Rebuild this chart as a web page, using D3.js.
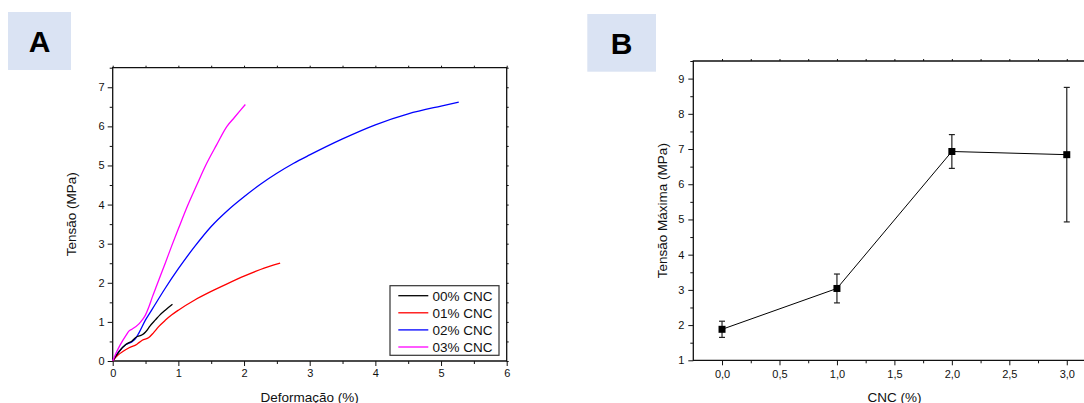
<!DOCTYPE html>
<html>
<head>
<meta charset="utf-8">
<script src="https://cdn.jsdelivr.net/npm/d3@7"></script>
<style>
  html, body { margin: 0; padding: 0; background: #fff; }
  svg { display: block; font-family: "Liberation Sans", Arial, sans-serif; }
</style>
</head>
<body>
<svg id="fig" width="1084" height="403"></svg>
<script>
// ---- Panel A: stress–strain curves (strain %, stress MPa) ----
const seriesNames = ["00% CNC", "01% CNC", "02% CNC", "03% CNC"];
const seriesColors = ["#000000", "#ff0000", "#0000ff", "#ff00ff"];

const strain00 = [0, 0.1, 0.2, 0.3, 0.35, 0.4, 0.45, 0.5, 0.57, 0.65, 0.72, 0.8, 0.91];
const stress00 = [0, 0.25, 0.42, 0.52, 0.6, 0.64, 0.67, 0.74, 0.9, 1.05, 1.18, 1.3, 1.45];

const strain01 = [0, 0.08, 0.16, 0.25, 0.37, 0.4, 0.45, 0.55, 0.62, 0.7, 0.8, 0.9, 1.0, 1.25, 1.5, 1.75, 2.0, 2.25, 2.55];
const stress01 = [0, 0.15, 0.25, 0.34, 0.43, 0.47, 0.53, 0.6, 0.72, 0.88, 1.04, 1.18, 1.3, 1.56, 1.78, 1.98, 2.17, 2.34, 2.5];

const strain02 = [0, 0.1, 0.2, 0.3, 0.35, 0.4, 0.5, 0.6, 0.8, 1.0, 1.25, 1.5, 1.75, 2.0, 2.25, 2.5, 2.75, 3.0, 3.5, 4.0, 4.5, 5.0, 5.27];
const stress02 = [0, 0.25, 0.42, 0.5, 0.58, 0.72, 1.05, 1.32, 1.86, 2.36, 2.93, 3.44, 3.85, 4.2, 4.52, 4.8, 5.05, 5.27, 5.68, 6.04, 6.32, 6.52, 6.62];

const strain03 = [0, 0.05, 0.11, 0.2, 0.25, 0.3, 0.4, 0.45, 0.5, 0.55, 0.6, 0.67, 0.8, 0.9, 1.0, 1.14, 1.28, 1.415, 1.58, 1.74, 1.85, 1.95, 2.02];
const stress03 = [0, 0.2, 0.4, 0.65, 0.77, 0.82, 0.95, 1.05, 1.18, 1.38, 1.62, 1.93, 2.5, 2.95, 3.38, 3.97, 4.5, 5.0, 5.52, 6.0, 6.22, 6.42, 6.56];

const xTicksA = [0, 1, 2, 3, 4, 5, 6];
const yTicksA = [0, 1, 2, 3, 4, 5, 6, 7];

// ---- Panel B: maximum stress vs CNC content ----
const cncLevels = [0, 1, 2, 3];
const maxStress = [1.88, 3.04, 6.93, 6.84];
const maxStressErr = [0.23, 0.41, 0.48, 1.91];
const xTicksB = [0, 0.5, 1, 1.5, 2, 2.5, 3];
const yTicksB = [1, 2, 3, 4, 5, 6, 7, 8, 9];

const svg = d3.select("#fig");
const FONT_TICK = 11;
const FONT_TITLE = 13.5;

function panelTag(x, y, w, h, letter) {
  svg.append("rect").attr("x", x).attr("y", y).attr("width", w).attr("height", h)
    .attr("fill", "#dae3f3");
  svg.append("text").attr("x", x + w / 2).attr("y", y + h / 2 + 11)
    .attr("text-anchor", "middle").attr("font-size", 30).attr("font-weight", "bold")
    .attr("fill", "#000").text(letter);
}

function range(a, b, step) {
  const out = [];
  for (let v = a; v <= b + 1e-9; v += step) out.push(+v.toFixed(4));
  return out;
}

function styleAxis(g) {
  g.select(".domain").remove();
  g.selectAll("line").attr("stroke", "#111").attr("stroke-width", 1);
  g.selectAll("text").attr("font-size", FONT_TICK).attr("fill", "#111")
    .attr("font-family", "Liberation Sans, Arial, sans-serif");
}

function frame(x0, y0, x1, y1) {
  svg.append("path")
    .attr("d", `M${x0},${y0}H${x1}V${y1}H${x0}Z`)
    .attr("fill", "none").attr("stroke", "#111").attr("stroke-width", 1.3);
}

// ================= Panel A =================
panelTag(8, 12, 63, 58, "A");

const xA = d3.scaleLinear().domain([0, 6]).range([112.7, 506.7]);
const yA = d3.scaleLinear().domain([0, 7.5]).range([361, 67.7]);

// minor ticks (outward)
svg.append("g").attr("transform", `translate(0,${yA(0)})`)
  .call(d3.axisBottom(xA).tickValues(range(0.5, 5.5, 1)).tickSize(3).tickFormat(""))
  .call(styleAxis);
svg.append("g").attr("transform", `translate(${xA(0)},0)`)
  .call(d3.axisLeft(yA).tickValues(range(0.5, 7.5, 1)).tickSize(3).tickFormat(""))
  .call(styleAxis);
// major ticks
svg.append("g").attr("transform", `translate(0,${yA(0)})`)
  .call(d3.axisBottom(xA).tickValues(xTicksA).tickSize(5).tickPadding(3).tickFormat(d3.format("d")))
  .call(styleAxis);
svg.append("g").attr("transform", `translate(${xA(0)},0)`)
  .call(d3.axisLeft(yA).tickValues(yTicksA).tickSize(5).tickPadding(3).tickFormat(d3.format("d")))
  .call(styleAxis);
// mirrored short ticks on top / right
svg.append("g").attr("transform", `translate(0,${yA(7.5)})`)
  .call(d3.axisTop(xA).tickValues(range(0, 6, 0.5)).tickSize(2).tickFormat(""))
  .call(styleAxis);
svg.append("g").attr("transform", `translate(${xA(6)},0)`)
  .call(d3.axisRight(yA).tickValues(range(0, 7.5, 0.5)).tickSize(2).tickFormat(""))
  .call(styleAxis);

frame(xA(0), yA(7.5), xA(6), yA(0));

const curves = [
  [strain00, stress00], [strain01, stress01], [strain02, stress02], [strain03, stress03]
];
const lineA = d3.line().x(d => xA(d[0])).y(d => yA(d[1])).curve(d3.curveMonotoneX);
// draw in order blue, red, black, magenta-on-top
[2, 1, 0, 3].forEach(i => {
  const pts = curves[i][0].map((s, k) => [s, curves[i][1][k]]);
  svg.append("path").datum(pts).attr("d", lineA)
    .attr("fill", "none").attr("stroke", seriesColors[i]).attr("stroke-width", 1.3)
    .attr("stroke-linejoin", "round");
});

// legend
const lg = svg.append("g");
lg.append("rect").attr("x", 390).attr("y", 285.7).attr("width", 109).attr("height", 69.6)
  .attr("fill", "#fff").attr("stroke", "#333").attr("stroke-width", 1.2);
seriesNames.forEach((name, i) => {
  const yy = 295.7 + i * 17.1;
  lg.append("line").attr("x1", 398.3).attr("x2", 428.3).attr("y1", yy).attr("y2", yy)
    .attr("stroke", seriesColors[i]).attr("stroke-width", 1.3);
  lg.append("text").attr("x", 432.5).attr("y", yy + 4.8).attr("font-size", 13.5)
    .attr("fill", "#111").text(name);
});

// axis titles
svg.append("text").attr("x", (xA(0) + xA(6)) / 2).attr("y", 401.5)
  .attr("text-anchor", "middle").attr("font-size", FONT_TITLE).attr("fill", "#111")
  .text("Deformação (%)");
svg.append("text").attr("transform", `translate(76,${(yA(0) + yA(7.5)) / 2}) rotate(-90)`)
  .attr("text-anchor", "middle").attr("font-size", FONT_TITLE).attr("fill", "#111")
  .text("Tensão (MPa)");

// ================= Panel B =================
panelTag(587.3, 14, 68.7, 57.7, "B");

const xB = d3.scaleLinear().domain([-0.25, 3.25]).range([693.3, 1095.5]);
const yB = d3.scaleLinear().domain([1, 9.5]).range([360.3, 61]);
const fmtComma = d => d3.format(".1f")(d).replace(".", ",");

svg.append("g").attr("transform", `translate(0,${yB(1)})`)
  .call(d3.axisBottom(xB).tickValues(range(0.25, 3, 0.5)).tickSize(3).tickFormat(""))
  .call(styleAxis);
svg.append("g").attr("transform", `translate(${xB(-0.25)},0)`)
  .call(d3.axisLeft(yB).tickValues(range(1.5, 9.5, 1)).tickSize(3).tickFormat(""))
  .call(styleAxis);
svg.append("g").attr("transform", `translate(0,${yB(1)})`)
  .call(d3.axisBottom(xB).tickValues(xTicksB).tickSize(5).tickPadding(5).tickFormat(fmtComma))
  .call(styleAxis);
svg.append("g").attr("transform", `translate(${xB(-0.25)},0)`)
  .call(d3.axisLeft(yB).tickValues(yTicksB).tickSize(5).tickPadding(4).tickFormat(d3.format("d")))
  .call(styleAxis);
svg.append("g").attr("transform", `translate(0,${yB(9.5)})`)
  .call(d3.axisTop(xB).tickValues(range(0, 3.25, 0.25)).tickSize(2).tickFormat(""))
  .call(styleAxis);

frame(xB(-0.25), yB(9.5), xB(3.25), yB(1));

const ptsB = cncLevels.map((c, i) => ({ c, v: maxStress[i], e: maxStressErr[i] }));

svg.append("path").datum(ptsB)
  .attr("d", d3.line().x(d => xB(d.c)).y(d => yB(d.v)))
  .attr("fill", "none").attr("stroke", "#000").attr("stroke-width", 1);

const eb = svg.append("g").attr("stroke", "#222").attr("stroke-width", 1.2);
ptsB.forEach(d => {
  const cx = xB(d.c), yt = yB(d.v + d.e), yb = yB(d.v - d.e);
  eb.append("line").attr("x1", cx).attr("x2", cx).attr("y1", yt).attr("y2", yb);
  eb.append("line").attr("x1", cx - 3).attr("x2", cx + 3).attr("y1", yt).attr("y2", yt);
  eb.append("line").attr("x1", cx - 3).attr("x2", cx + 3).attr("y1", yb).attr("y2", yb);
});

svg.append("g").selectAll("rect").data(ptsB).join("rect")
  .attr("x", d => xB(d.c) - 3.5).attr("y", d => yB(d.v) - 3.5)
  .attr("width", 7).attr("height", 7).attr("fill", "#000");

svg.append("text").attr("x", (xB(0) + xB(3)) / 2).attr("y", 401.5)
  .attr("text-anchor", "middle").attr("font-size", FONT_TITLE).attr("fill", "#111")
  .text("CNC (%)");
svg.append("text").attr("transform", `translate(667,${(yB(1) + yB(9.5)) / 2}) rotate(-90)`)
  .attr("text-anchor", "middle").attr("font-size", FONT_TITLE).attr("fill", "#111")
  .text("Tensão Máxima (MPa)");
</script>
</body>
</html>
